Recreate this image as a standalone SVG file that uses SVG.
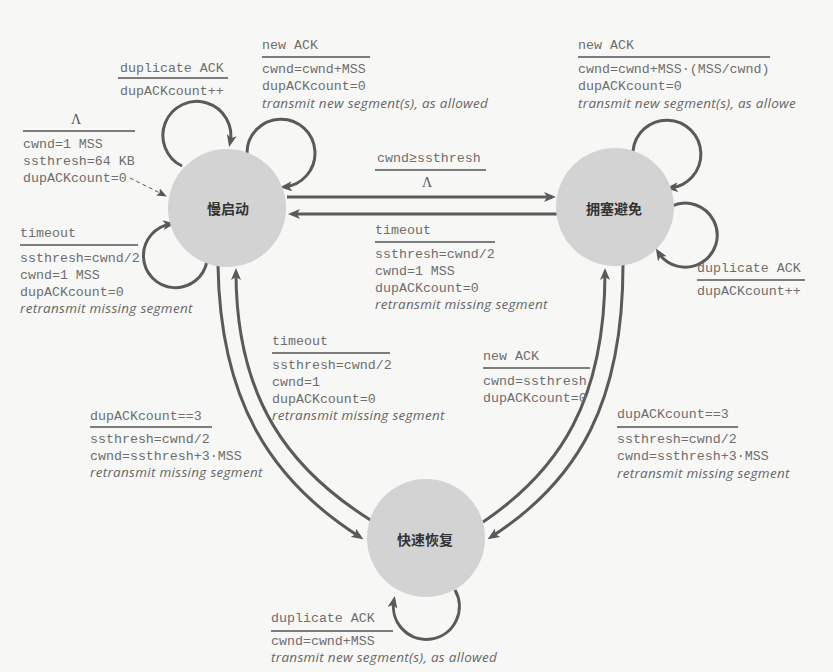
<svg xmlns="http://www.w3.org/2000/svg" width="833" height="672" viewBox="0 0 833 672">
  <style>
    .bg { fill: #f7f7f5; }
    .state { fill: #d3d3d3; }
    .name { font-family: "Noto Sans CJK SC", "Noto Sans", sans-serif; font-weight: bold; font-size: 14px; fill: #333; text-anchor: middle; }
    .m { font-family: "Liberation Mono", "DejaVu Sans Mono", monospace; font-size: 13.3px; fill: #6e6e6e; }
    .lam { font-family: "Liberation Serif", serif; font-size: 14px; fill: #555; text-anchor: middle; }
    .i { font-family: "Open Sans", "Noto Sans", sans-serif; font-style: italic; font-size: 13.5px; letter-spacing: 0.3px; fill: #666; }
    .rule { stroke: #555; stroke-width: 1.4; }
    .edge { fill: none; stroke: #5a5a5a; stroke-width: 3; marker-end: url(#head); }
    .init { fill: none; stroke: #555; stroke-width: 1; stroke-dasharray: 4 3; marker-end: url(#small); }
  </style>
  <defs>
    <marker id="head" markerUnits="userSpaceOnUse" viewBox="0 0 12 10" markerWidth="12" markerHeight="10" refX="8" refY="5" orient="auto">
      <path d="M0,0 L12,5 L0,10 L3,5 Z" fill="#5a5a5a"/>
    </marker>
    <marker id="small" markerUnits="userSpaceOnUse" viewBox="0 0 10 8" markerWidth="10" markerHeight="8" refX="9" refY="4" orient="auto">
      <path d="M0,0 L10,4 L0,8 L2,4 Z" fill="#555"/>
    </marker>
  </defs>

  <rect class="bg" x="0" y="0" width="833" height="672"/>

  <!-- transitions -->
  <g id="connectors">
    <!-- initial transition -->
    <path class="init" d="M130,178 L166,196"/>
    <!-- slow start self loops -->
    <path class="edge" d="M182,166 A34,34 0 1 1 230,143"/>
    <path class="edge" d="M247,153 A34,34 0 1 1 284,187"/>
    <path class="edge" d="M207,261 A32,32 0 1 1 171,224"/>
    <!-- slow start <-> congestion avoidance -->
    <path class="edge" d="M287,197 L552,197"/>
    <path class="edge" d="M557,214 L292,214"/>
    <!-- congestion avoidance self loops -->
    <path class="edge" d="M633,151 A34,34 0 1 1 670,188"/>
    <path class="edge" d="M672,206 A32,32 0 1 1 658,252"/>
    <!-- slow start <-> fast recovery -->
    <path class="edge" d="M218,265 C220,400 270,480 360,537"/>
    <path class="edge" d="M372,521 C290,470 236,400 236,272"/>
    <!-- congestion avoidance <-> fast recovery -->
    <path class="edge" d="M483,522 C560,470 605,400 605,272"/>
    <path class="edge" d="M623,265 C623,400 580,480 491,537"/>
    <!-- fast recovery self loop -->
    <path class="edge" d="M455,590 A33,33 0 1 1 394,600"/>
  </g>

  <!-- states -->
  <g id="slow-start">
    <circle class="state" cx="227" cy="208" r="59"/>
    <text class="name" x="228" y="214">慢启动</text>
  </g>
  <g id="congestion-avoidance">
    <circle class="state" cx="615" cy="207" r="59"/>
    <text class="name" x="614" y="214">拥塞避免</text>
  </g>
  <g id="fast-recovery">
    <circle class="state" cx="426" cy="538" r="59"/>
    <text class="name" x="425" y="545">快速恢复</text>
  </g>

  <!-- transition labels -->
  <g id="label-init">
    <text class="lam" x="76" y="124">Λ</text>
    <line class="rule" x1="23" y1="131" x2="135" y2="131"/>
    <text class="m" x="23" y="148">cwnd=1 MSS</text>
    <text class="m" x="23" y="165">ssthresh=64 KB</text>
    <text class="m" x="23" y="182">dupACKcount=0</text>
  </g>
  <g id="label-ss-dup">
    <text class="m" x="120" y="72">duplicate ACK</text>
    <line class="rule" x1="118" y1="78" x2="228" y2="78"/>
    <text class="m" x="120" y="95">dupACKcount++</text>
  </g>
  <g id="label-ss-new">
    <text class="m" x="262" y="49">new ACK</text>
    <line class="rule" x1="262" y1="57" x2="370" y2="57"/>
    <text class="m" x="262" y="73">cwnd=cwnd+MSS</text>
    <text class="m" x="262" y="90">dupACKcount=0</text>
    <text class="i" x="262" y="108">transmit new segment(s), as allowed</text>
  </g>
  <g id="label-ss-ca">
    <text class="m" x="377" y="162">cwnd≥ssthresh</text>
    <line class="rule" x1="375" y1="170" x2="486" y2="170"/>
    <text class="lam" x="427" y="187">Λ</text>
  </g>
  <g id="label-ca-new">
    <text class="m" x="578" y="49">new ACK</text>
    <line class="rule" x1="578" y1="57" x2="770" y2="57"/>
    <text class="m" x="578" y="73">cwnd=cwnd+MSS·(MSS/cwnd)</text>
    <text class="m" x="578" y="90">dupACKcount=0</text>
    <text class="i" x="578" y="108">transmit new segment(s), as allowe</text>
  </g>
  <g id="label-ss-timeout">
    <text class="m" x="20" y="237">timeout</text>
    <line class="rule" x1="20" y1="245" x2="138" y2="245"/>
    <text class="m" x="20" y="262">ssthresh=cwnd/2</text>
    <text class="m" x="20" y="279">cwnd=1 MSS</text>
    <text class="m" x="20" y="296">dupACKcount=0</text>
    <text class="i" x="20" y="313">retransmit missing segment</text>
  </g>
  <g id="label-ca-timeout">
    <text class="m" x="375" y="234">timeout</text>
    <line class="rule" x1="375" y1="242" x2="495" y2="242"/>
    <text class="m" x="375" y="258">ssthresh=cwnd/2</text>
    <text class="m" x="375" y="275">cwnd=1 MSS</text>
    <text class="m" x="375" y="292">dupACKcount=0</text>
    <text class="i" x="375" y="309">retransmit missing segment</text>
  </g>
  <g id="label-ca-dup">
    <text class="m" x="697" y="272">duplicate ACK</text>
    <line class="rule" x1="697" y1="280" x2="805" y2="280"/>
    <text class="m" x="697" y="295">dupACKcount++</text>
  </g>
  <g id="label-fr-timeout">
    <text class="m" x="272" y="345">timeout</text>
    <line class="rule" x1="272" y1="353" x2="390" y2="353"/>
    <text class="m" x="272" y="369">ssthresh=cwnd/2</text>
    <text class="m" x="272" y="386">cwnd=1</text>
    <text class="m" x="272" y="403">dupACKcount=0</text>
    <text class="i" x="272" y="420">retransmit missing segment</text>
  </g>
  <g id="label-ss-fr">
    <text class="m" x="90" y="420">dupACKcount==3</text>
    <line class="rule" x1="90" y1="427" x2="212" y2="427"/>
    <text class="m" x="90" y="443">ssthresh=cwnd/2</text>
    <text class="m" x="90" y="460">cwnd=ssthresh+3·MSS</text>
    <text class="i" x="90" y="477">retransmit missing segment</text>
  </g>
  <g id="label-fr-new">
    <text class="m" x="483" y="360">new ACK</text>
    <line class="rule" x1="483" y1="368" x2="590" y2="368"/>
    <text class="m" x="483" y="385">cwnd=ssthresh</text>
    <text class="m" x="483" y="402">dupACKcount=0</text>
  </g>
  <g id="label-ca-fr">
    <text class="m" x="617" y="418">dupACKcount==3</text>
    <line class="rule" x1="617" y1="427" x2="738" y2="427"/>
    <text class="m" x="617" y="443">ssthresh=cwnd/2</text>
    <text class="m" x="617" y="460">cwnd=ssthresh+3·MSS</text>
    <text class="i" x="617" y="478">retransmit missing segment</text>
  </g>
  <g id="label-fr-dup">
    <text class="m" x="271" y="622">duplicate ACK</text>
    <line class="rule" x1="271" y1="631" x2="393" y2="631"/>
    <text class="m" x="271" y="645">cwnd=cwnd+MSS</text>
    <text class="i" x="271" y="662">transmit new segment(s), as allowed</text>
  </g>
</svg>
